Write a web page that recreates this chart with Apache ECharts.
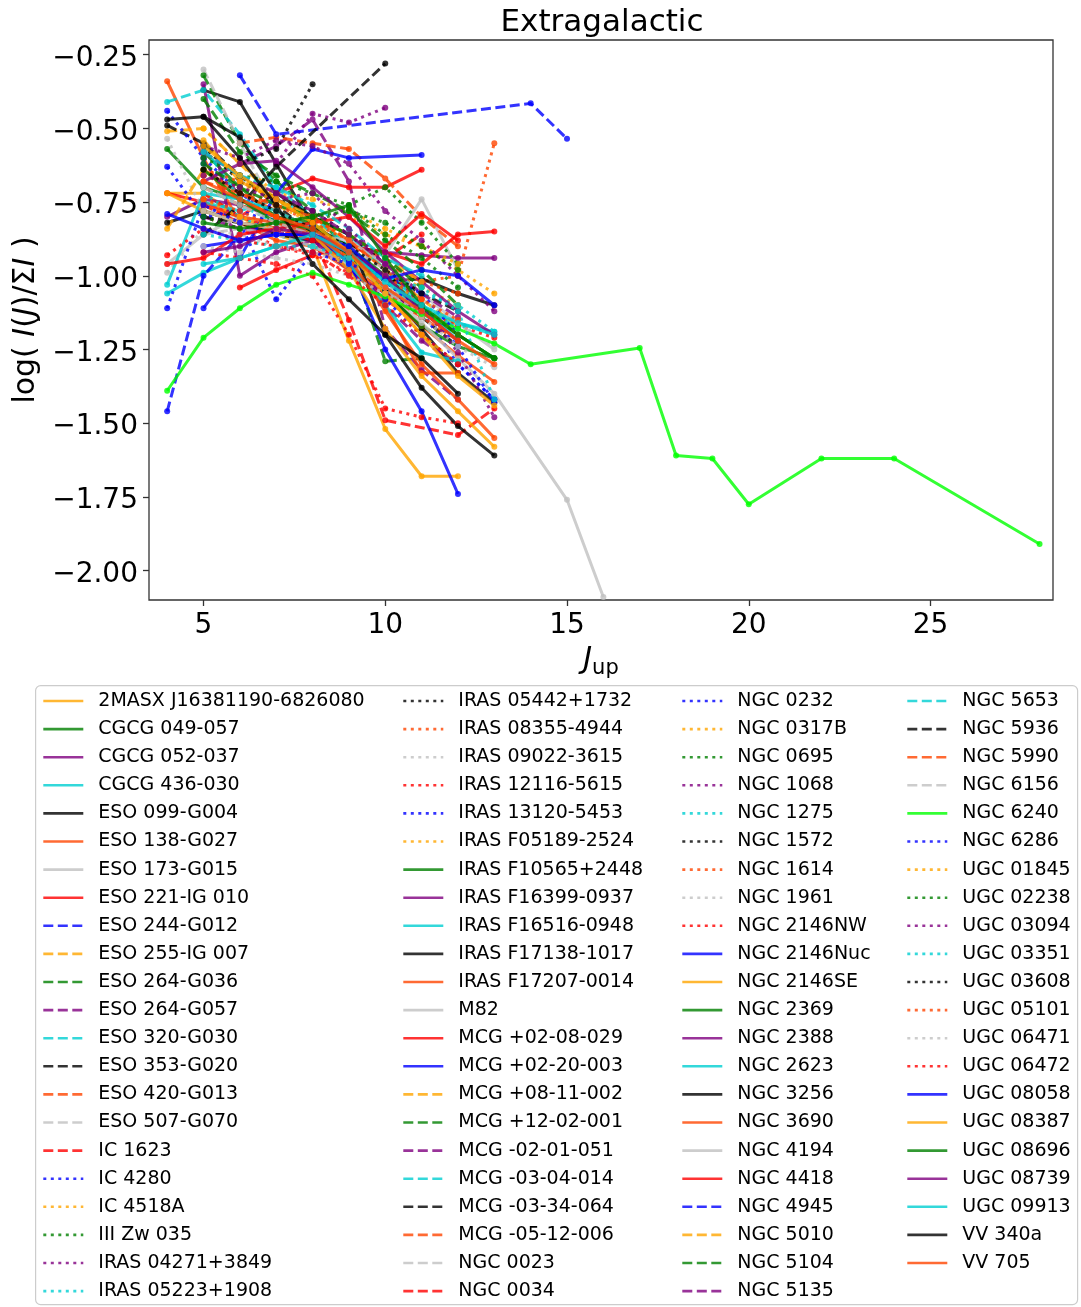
<!DOCTYPE html>
<html>
<head>
<meta charset="utf-8">
<title>Extragalactic</title>
<script src="https://cdn.jsdelivr.net/npm/echarts@6/dist/echarts.min.js"></script>
<style>html,body{margin:0;padding:0;background:#fff;}</style>
</head>
<body>
<div id="main" style="width:1081px;height:1307px;"></div>
<script>
var N = null;
// upper J levels of the CO ladder
var jUp = [4, 5, 6, 7, 8, 9, 10, 11, 12, 13];

var galaxyNames = [
  '2MASX J16381190-6826080', 'CGCG 049-057', 'CGCG 052-037', 'CGCG 436-030', 'ESO 099-G004', 'ESO 138-G027',
  'ESO 173-G015', 'ESO 221-IG 010', 'ESO 244-G012', 'ESO 255-IG 007', 'ESO 264-G036', 'ESO 264-G057',
  'ESO 320-G030', 'ESO 353-G020', 'ESO 420-G013', 'ESO 507-G070', 'IC 1623', 'IC 4280', 'IC 4518A',
  'III Zw 035', 'IRAS 04271+3849', 'IRAS 05223+1908',
  'IRAS 05442+1732', 'IRAS 08355-4944', 'IRAS 09022-3615', 'IRAS 12116-5615', 'IRAS 13120-5453',
  'IRAS F05189-2524', 'IRAS F10565+2448', 'IRAS F16399-0937', 'IRAS F16516-0948', 'IRAS F17138-1017',
  'IRAS F17207-0014', 'M82', 'MCG +02-08-029', 'MCG +02-20-003', 'MCG +08-11-002', 'MCG +12-02-001',
  'MCG -02-01-051', 'MCG -03-04-014', 'MCG -03-34-064', 'MCG -05-12-006', 'NGC 0023', 'NGC 0034',
  'NGC 0232', 'NGC 0317B', 'NGC 0695', 'NGC 1068', 'NGC 1275', 'NGC 1572', 'NGC 1614', 'NGC 1961',
  'NGC 2146NW', 'NGC 2146Nuc', 'NGC 2146SE', 'NGC 2369', 'NGC 2388', 'NGC 2623', 'NGC 3256', 'NGC 3690',
  'NGC 4194', 'NGC 4418', 'NGC 4945', 'NGC 5010', 'NGC 5104', 'NGC 5135',
  'NGC 5653', 'NGC 5936', 'NGC 5990', 'NGC 6156', 'NGC 6240', 'NGC 6286', 'UGC 01845', 'UGC 02238',
  'UGC 03094', 'UGC 03351', 'UGC 03608', 'UGC 05101', 'UGC 06471', 'UGC 06472', 'UGC 08058',
  'UGC 08387', 'UGC 08696', 'UGC 08739', 'UGC 09913', 'VV 340a', 'VV 705'
];

// log(I(J)/sum I) at J = 4..13, one row per galaxy
var lineValues = [
  [-0.72, -0.72, -0.80, -0.86, -0.90, -1.22, -1.52, -1.68, -1.68, N],
  [-0.57, -0.70, -0.74, -0.80, -0.85, -0.93, -1.02, -1.11, -1.20, -1.28],
  [-0.80, -0.74, -0.76, -0.80, -0.86, -0.90, -0.92, -0.93, -0.94, -0.94],
  [-1.06, -0.99, -0.94, -0.90, -0.87, -0.95, -1.05, -1.12, -1.16, -1.19],
  [N, -0.37, -0.41, -0.62, -0.83, -0.90, -1.05, -1.18, -1.33, -1.43],
  [-0.34, -0.60, -0.82, -0.88, -0.90, -0.98, -1.08, -1.17, -1.27, -1.36],
  [N, -0.78, -0.80, -0.84, -0.86, -0.90, -0.93, -0.74, -0.98, N],
  [-0.72, -0.75, -0.80, -0.72, -0.67, -0.70, -0.70, -0.64, N, N],
  [-1.46, -1.00, -0.86, -0.84, -0.83, -0.92, -1.00, N, N, N],
  [-0.51, -0.50, -0.62, -0.74, -0.82, -0.88, -0.98, -1.08, -1.17, N],
  [N, -0.32, -0.55, -0.68, -0.78, -0.92, -1.29, -1.28, N, N],
  [N, N, -0.62, -0.56, -0.47, -0.68, -1.18, -1.32, -1.42, N],
  [-0.41, -0.37, -0.52, -0.70, -0.80, -0.90, -1.02, -1.12, N, N],
  [-0.49, -0.55, -0.66, -0.76, -0.86, -0.94, -1.04, -1.14, -1.24, N],
  [N, N, -0.55, -0.53, -0.55, -0.57, -0.67, -0.80, -0.90, N],
  [N, -0.30, -0.55, -0.78, -0.84, -0.92, -1.02, -1.10, -1.18, N],
  [N, -0.72, -0.80, -0.84, -0.86, -1.15, -1.49, N, -1.54, -1.45],
  [-0.44, -0.60, -0.72, -0.82, -0.88, -0.96, -1.02, -1.12, -1.30, -1.42],
  [N, -0.58, -0.66, -0.76, -0.82, -0.80, -0.86, -0.90, -0.98, -1.06],
  [N, N, -0.66, -0.68, -0.72, -0.76, -0.70, -0.82, -0.96, N],
  [N, N, N, -0.62, -0.45, -0.48, -0.43, N, N, N],
  [N, -0.72, -0.80, -0.86, -0.90, -0.96, -1.04, -1.10, -1.16, -1.20],
  [N, N, -0.62, -0.57, -0.35, N, N, N, N, N],
  [N, -0.66, -0.70, -0.76, -0.82, -0.88, -0.96, -1.02, -1.00, -0.55],
  [-0.535, -0.78, -0.82, -0.86, -0.88, -0.92, -1.00, -1.08, -1.16, -1.24],
  [N, -0.80, -0.84, -0.90, -0.93, -0.99, -1.06, -1.12, -1.17, -1.21],
  [N, -0.62, -0.72, -0.80, -0.86, -0.98, -1.08, -1.20, -1.30, -1.42],
  [N, -0.66, -0.70, -0.72, -0.74, -0.78, -0.84, -0.90, -0.96, N],
  [N, -0.58, -0.70, -0.80, -0.82, -0.92, -1.06, -1.17, -1.24, -1.28],
  [N, -0.35, -1.00, -0.92, -0.88, -0.98, -1.06, -1.12, N, N],
  [N, -0.75, -0.78, -0.74, -0.80, -0.86, -0.98, -1.10, -1.22, N],
  [-0.82, -0.78, -0.82, -0.86, -0.88, -0.92, -1.02, -1.01, -1.06, -1.10],
  [N, -0.64, -0.72, -0.78, -0.84, -0.96, -1.10, -1.33, -1.33, N],
  [-0.96, -0.86, -0.80, -0.82, -0.84, -0.92, -1.04, -1.16, -1.28, -1.40],
  [N, N, -1.04, -0.98, -0.93, -0.90, -0.92, -0.96, -0.86, -0.85],
  [N, -1.11, -0.94, -0.72, -0.57, -0.60, N, -0.59, N, N],
  [-0.84, -0.64, -0.74, -0.80, -0.86, -0.94, -1.06, -1.20, -1.30, N],
  [N, -0.40, -0.58, -0.66, -0.72, -0.78, -0.88, -0.98, -1.10, N],
  [N, -0.80, -0.84, -0.85, -0.88, -0.95, -1.10, -1.22, -1.30, N],
  [N, -0.56, -0.74, -0.82, -0.86, -0.92, -1.02, -1.10, -1.18, N],
  [N, -0.80, -0.82, -0.84, -0.86, -0.92, -1.00, -1.06, -1.12, N],
  [N, -0.70, -0.76, -0.80, -0.86, -0.96, -1.06, -1.14, -1.22, N],
  [N, -0.86, -0.84, -0.86, -0.90, -0.96, -1.04, -1.12, N, N],
  [N, -0.76, -0.82, -0.84, -0.88, -0.90, -0.94, -0.86, N, N],
  [-0.63, -0.80, -0.78, -0.82, -0.86, -0.92, -1.00, -1.10, -1.24, -1.43],
  [N, -0.50, -0.62, -0.72, -0.80, -0.88, -0.98, -1.04, -1.10, N],
  [N, -0.60, -0.66, -0.74, -0.82, -0.77, -0.86, -0.94, -1.04, N],
  [N, -0.56, -0.60, -0.54, -0.56, -0.62, -0.78, -0.88, -1.00, -1.12],
  [N, -0.70, -0.76, -0.82, -0.86, -0.94, -1.02, -1.06, -1.10, -1.19],
  [N, -0.56, -0.68, -0.74, -0.78, -0.86, -0.96, -1.06, N, N],
  [N, -0.64, -0.68, -0.74, -0.80, -0.88, -0.96, -1.02, -1.06, N],
  [-0.99, -0.84, -0.86, -0.90, -0.92, -0.96, -1.02, -1.14, -1.24, -1.31],
  [N, -0.92, -0.94, -0.96, -1.00, -1.20, -1.45, -1.48, -1.50, N],
  [N, -0.90, -0.88, -0.86, -0.86, -0.95, -1.25, -1.46, -1.74, N],
  [-0.72, -0.78, -0.82, -0.84, -0.86, -0.98, -1.18, -1.34, -1.46, -1.58],
  [N, -0.64, -0.74, -0.82, -0.84, -0.90, -1.00, -1.11, -1.20, -1.28],
  [N, -0.68, -0.62, -0.61, -0.70, -0.80, -0.92, -1.02, -1.12, -1.20],
  [-1.03, -0.72, -0.74, -0.78, -0.84, -0.96, -1.10, -1.26, -1.29, N],
  [N, -0.46, -0.53, -0.72, -0.80, -0.86, -1.20, -1.38, -1.51, -1.61],
  [N, -0.76, -0.80, -0.82, -0.86, -0.94, -1.12, -1.30, -1.42, -1.55],
  [N, -0.78, -0.82, -0.84, -0.86, -0.88, -0.96, -1.06, -1.16, -1.25],
  [-0.96, -0.94, -0.86, -0.84, -0.82, -0.80, -0.90, -0.79, -0.88, N],
  [N, N, -0.32, -0.52, N, N, N, N, N, N],
  [N, -0.54, -0.68, -0.74, -0.80, -0.86, -0.94, -1.02, N, N],
  [N, -0.62, -0.70, -0.76, -0.80, -0.86, -0.94, -1.04, N, N],
  [N, -0.58, -0.66, -0.72, -0.78, -0.86, -0.96, -1.06, -1.14, N],
  [N, -0.58, -0.66, -0.70, -0.76, -0.84, -0.94, -1.00, N, N],
  [N, -0.86, -0.76, -0.63, N, N, -0.28, N, N, N],
  [N, -0.68, -0.72, -0.76, -0.80, -0.88, -0.98, -1.08, N, N],
  [N, -0.70, -0.76, -0.82, -0.86, -0.90, -0.98, N, N, N],
  [-1.39, -1.21, -1.11, -1.03, -0.99, -1.03, -1.07, -1.13, -1.18, -1.23],
  [-1.11, -0.76, -0.82, -1.08, -0.92, -0.96, -1.00, -1.06, -1.20, N],
  [N, -0.74, -0.80, -0.84, -0.86, -0.92, -1.00, -1.10, -1.20, N],
  [N, -0.80, -0.84, -0.82, -0.80, -0.78, -0.82, -0.90, -0.98, N],
  [N, -0.66, -0.70, -0.74, -0.72, -0.84, -0.96, -1.10, -1.26, -1.48],
  [N, -0.86, -0.88, -0.90, -0.90, -0.94, -1.00, -1.04, -1.12, -1.42],
  [N, -0.64, -0.72, -0.78, -0.84, -0.90, -0.98, -1.06, N, N],
  [N, -0.74, -0.78, -0.84, -0.86, -0.92, -1.00, -1.08, -1.15, N],
  [N, -0.90, -0.92, -0.94, -0.96, -1.00, -1.06, -1.12, N, N],
  [-0.93, -0.84, -0.88, -0.90, -0.92, -1.00, -1.10, -1.20, -1.30, N],
  [-0.79, -0.84, -0.88, -0.86, -0.86, -0.90, -1.01, -0.98, -1.00, -1.10],
  [N, -0.56, -0.66, -0.74, -0.82, -0.92, -1.06, -1.20, -1.34, -1.44],
  [N, -0.82, -0.84, -0.82, -0.80, -0.76, -0.94, -1.10, -1.20, -1.28],
  [N, -0.92, -0.90, -0.84, -0.86, -0.92, -1.00, -1.12, -1.22, N],
  [N, -0.96, -0.94, -0.90, -0.86, -0.92, -1.02, -1.10, -1.16, -1.20],
  [-0.47, -0.46, -0.60, -0.76, -0.96, -1.08, -1.20, -1.28, -1.40, N],
  [N, -0.68, -0.74, -0.80, -0.84, -0.92, -1.04, -1.12, -1.22, -1.30]
];

// the few galaxies measured above J = 13
var m82HighJ = [15, 16];
var m82HighValues = [-1.76, -2.09];
var ngc4945HighJ = [14, 15];
var ngc4945HighValues = [-0.415, -0.535];
var ngc6240HighJ = [14, 17, 18, 19, 20, 22, 24, 28];
var ngc6240HighValues = [-1.30, -1.245, -1.61, -1.62, -1.775, -1.62, -1.62, -1.91];

var xTickValues = [5, 10, 15, 20, 25];
var yTickValues = [-2.0, -1.75, -1.5, -1.25, -1.0, -0.75, -0.5, -0.25];

var highJ = {
  'M82': [m82HighJ, m82HighValues],
  'NGC 4945': [ngc4945HighJ, ngc4945HighValues],
  'NGC 6240': [ngc6240HighJ, ngc6240HighValues]
};

var palette = ['#FFA500', '#008000', '#800080', '#00CED1', '#000000', '#FF4500', '#C0C0C0', '#FF0000', '#0000FF'];
// s = solid, d = dashed, o = dotted
var styleCode = 'ssssssss' + 'ddddddddd' + 'ooooooooooo' + 'ssssssss' + 'dddddddd' +
  'ooooooooo' + 'sssssssss' + 'dddddddd' + 's' + 'ooooooooo' + 'sssssss';
var dashType = { s: 'solid', d: [10, 4.5], o: [3, 4.5] };
var font = 'DejaVu Sans';

function colorOf(i) {
  return galaxyNames[i] === 'NGC 6240' ? '#00FF00' : palette[i % 9];
}

var series = galaxyNames.map(function (name, i) {
  var pts = [];
  lineValues[i].forEach(function (v, k) {
    if (v !== null) pts.push([jUp[k], v]);
  });
  if (highJ[name]) {
    highJ[name][0].forEach(function (j, k) {
      pts.push([j, highJ[name][1][k]]);
    });
  }
  return {
    name: name, type: 'line', data: pts, symbol: 'circle', symbolSize: 6,
    lineStyle: { color: colorOf(i), width: 3, type: dashType[styleCode[i]], opacity: 0.8, cap: 'butt' },
    itemStyle: { color: colorOf(i), opacity: 0.8 },
    emphasis: { disabled: true }
  };
});

var legendLeft = [42, 402, 681, 906];
var legends = legendLeft.map(function (left, c) {
  return {
    data: galaxyNames.slice(c * 22, c * 22 + 22),
    orient: 'vertical', left: left, top: 691, padding: 0,
    itemWidth: 40, itemHeight: 14, itemGap: 8.1,
    selectedMode: false,
    itemStyle: { opacity: 0, borderWidth: 0 },   // line only, no marker in the key
    lineStyle: { width: 2.6 },
    textStyle: { fontSize: 19, fontFamily: font, color: '#000', lineHeight: 20, padding: [0, 0, 0, 10] }
  };
});

var myChart = echarts.init(document.getElementById('main'), null, { renderer: 'canvas' });
var option = {
  animation: false,
  backgroundColor: '#fff',
  title: {
    text: 'Extragalactic', left: 602, top: 7, padding: 0, textAlign: 'center',
    textStyle: { fontSize: 31, fontWeight: 'normal', fontFamily: font, color: '#000' }
  },
  legend: legends,
  graphic: [{
    type: 'rect', left: 35, top: 685, z: -10,
    shape: { width: 1042, height: 619, r: 5 },
    style: { fill: '#fff', stroke: '#cccccc', lineWidth: 1.2 }
  }],
  grid: {
    left: 149, right: 28, top: 40, bottom: 707,
    show: true, borderColor: '#333', borderWidth: 1.3
  },
  xAxis: {
    type: 'value', min: 3.5, max: 28.37,
    axisLine: { show: false },
    splitLine: { show: false },
    axisTick: { show: true, length: 6, customValues: xTickValues, lineStyle: { color: '#333', width: 1.3 } },
    axisLabel: {
      customValues: xTickValues, fontSize: 28, fontFamily: font, color: '#000', margin: 12,
      formatter: function (v) { return String(v); }
    },
    name: '{i|J}{sub|up}', nameLocation: 'middle', nameGap: 42,
    nameTextStyle: {
      fontSize: 30, fontFamily: font, color: '#000',
      rich: {
        i: { fontSize: 30, fontStyle: 'italic', fontFamily: font, color: '#000' },
        sub: { fontSize: 21, fontFamily: font, color: '#000', padding: [16, 0, 0, 0] }
      }
    }
  },
  yAxis: {
    type: 'value', min: -2.1, max: -0.2,
    axisLine: { show: false },
    splitLine: { show: false },
    axisTick: { show: true, length: 6, customValues: yTickValues, lineStyle: { color: '#333', width: 1.3 } },
    axisLabel: {
      customValues: yTickValues, fontSize: 28, fontFamily: font, color: '#000', margin: 11,
      verticalAlign: 'top', lineHeight: 8,
      formatter: function (v) { return '\u2212' + Math.abs(v).toFixed(2); }
    },
    name: 'log( {i|I}({i|J})/Σ{i|I} )', nameLocation: 'middle', nameGap: 100, nameRotate: 90,
    nameTextStyle: {
      fontSize: 30, fontFamily: font, color: '#000',
      rich: { i: { fontSize: 30, fontStyle: 'italic', fontFamily: font, color: '#000' } }
    }
  },
  series: series
};
myChart.setOption(option);
</script>
</body>
</html>
